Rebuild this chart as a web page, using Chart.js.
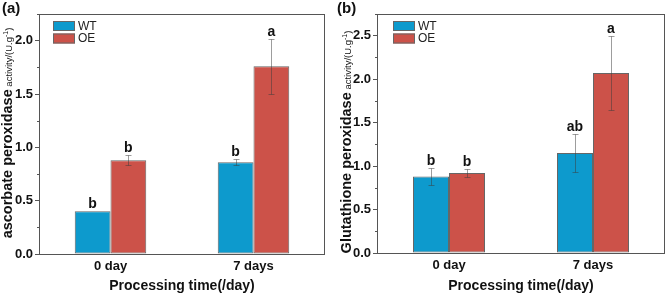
<!DOCTYPE html>
<html>
<head>
<meta charset="utf-8">
<script src="https://cdn.jsdelivr.net/npm/chart.js@4.4.1/dist/chart.umd.min.js"></script>
<style>
  body { margin: 0; background: #fff; }
  #panelA { position: absolute; left: 0; top: 0; }
  #panelB { position: absolute; left: 335px; top: 0; }
</style>
</head>
<body>
<canvas id="panelA" width="335" height="295"></canvas>
<canvas id="panelB" width="334" height="295"></canvas>
<script>
// Kategorier och serier
const categories = ['0 day', '7 days'];
const seriesNames = ['WT', 'OE'];

// (a) ascorbate peroxidase
const apxWT = [0.40, 0.86];
const apxWTErr = [0.00, 0.03];
const apxOE = [0.88, 1.76];
const apxOEErr = [0.05, 0.26];
const apxWTLetters = ['b', 'b'];
const apxOELetters = ['b', 'a'];
const apxTicks = [0.0, 0.5, 1.0, 1.5, 2.0];
const apxMinorTicks = [0.25, 0.75, 1.25, 1.75, 2.25];

// (b) glutathione peroxidase
const gpxWT = [0.88, 1.15];
const gpxWTErr = [0.10, 0.215];
const gpxOE = [0.92, 2.07];
const gpxOEErr = [0.045, 0.43];
const gpxWTLetters = ['b', 'ab'];
const gpxOELetters = ['b', 'a'];
const gpxTicks = [0.0, 0.5, 1.0, 1.5, 2.0, 2.5];
const gpxMinorTicks = [0.25, 0.75, 1.25, 1.75, 2.25, 2.75];

const FONT = '"Liberation Sans", Arial, sans-serif';
const wtColor = '#0d9acd';
const oeColor = '#cc5249';

/**
 * Ritar ram, mindre tick-streck, felstaplar, bokstäver, förklaring och titlar.
 */
const decorPlugin = {
    id: 'decor',
    afterDatasetsDraw(chart, args, opts) {
        const ctx = chart.ctx;
        const area = chart.chartArea;
        const y = chart.scales.y;
        ctx.save();

        // felstaplar och signifikansbokstäver
        chart.data.datasets.forEach((ds, i) => {
            const meta = chart.getDatasetMeta(i);
            meta.data.forEach((bar, j) => {
                const err = ds.errors[j];
                const x = Math.round(bar.x) + 0.5;
                const yTop = y.getPixelForValue(ds.data[j] + err);
                const yBot = y.getPixelForValue(ds.data[j] - err);
                if (err > 0) {
                    ctx.strokeStyle = 'rgba(60,60,60,0.5)';
                    ctx.lineWidth = 1;
                    ctx.beginPath();
                    ctx.moveTo(x, Math.round(yTop) + 0.5);
                    ctx.lineTo(x, Math.round(yBot) + 0.5);
                    ctx.moveTo(x - 3, Math.round(yTop) + 0.5);
                    ctx.lineTo(x + 3, Math.round(yTop) + 0.5);
                    ctx.moveTo(x - 3, Math.round(yBot) + 0.5);
                    ctx.lineTo(x + 3, Math.round(yBot) + 0.5);
                    ctx.stroke();
                }
                ctx.fillStyle = '#111';
                ctx.font = 'bold 14px ' + FONT;
                ctx.textAlign = 'center';
                ctx.textBaseline = 'alphabetic';
                ctx.fillText(ds.letters[j], bar.x, yTop - 3);
            });
        });

        // ram runt diagramytan
        ctx.strokeStyle = '#555';
        ctx.lineWidth = 1;
        ctx.strokeRect(area.left + 0.5, area.top + 0.5, area.right - area.left - 1, area.bottom - area.top);

        // mindre tick-streck
        ctx.beginPath();
        opts.minorTicks.forEach(v => {
            const py = Math.round(y.getPixelForValue(v)) + 0.5;
            ctx.moveTo(area.left - 2, py);
            ctx.lineTo(area.left, py);
        });
        ctx.stroke();

        // förklaring
        chart.data.datasets.forEach((ds, i) => {
            const bx = area.left + opts.legendX;
            const by = area.top + 7 + i * 12.5;
            ctx.fillStyle = ds.backgroundColor;
            ctx.fillRect(bx, by, 22, 10);
            ctx.strokeStyle = '#666';
            ctx.strokeRect(bx + 0.5, by + 0.5, 21, 9);
            ctx.fillStyle = '#222';
            ctx.font = '12px ' + FONT;
            ctx.textAlign = 'left';
            ctx.textBaseline = 'middle';
            ctx.fillText(ds.label, bx + 25, by + 5.5);
        });

        // x-titel
        ctx.fillStyle = '#111';
        ctx.font = 'bold 14px ' + FONT;
        ctx.textAlign = 'center';
        ctx.textBaseline = 'middle';
        ctx.fillText('Processing time(/day)', (area.left + area.right) / 2, 286);

        // panelbokstav
        ctx.font = 'bold 15px ' + FONT;
        ctx.textAlign = 'left';
        ctx.fillText(opts.panel, 2, 9);

        // y-titel med blandade storlekar
        const parts = [
            { text: opts.titleMain, font: 'bold 14.5px ' + FONT, dy: 0 },
            { text: ' activity/(U.g', font: '9.5px ' + FONT, dy: 0 },
            { text: '-1', font: '7px ' + FONT, dy: -4 },
            { text: ')', font: '9.5px ' + FONT, dy: 0 }
        ];
        let total = 0;
        parts.forEach(p => { ctx.font = p.font; p.w = ctx.measureText(p.text).width; total += p.w; });
        ctx.translate(opts.titleX, opts.titleY);
        ctx.rotate(-Math.PI / 2);
        ctx.textAlign = 'left';
        ctx.textBaseline = 'alphabetic';
        let cx = -total / 2;
        parts.forEach(p => {
            ctx.font = p.font;
            ctx.fillText(p.text, cx, p.dy);
            cx += p.w;
        });
        ctx.restore();
    }
};

/**
 * Skapar en panel med grupperade staplar.
 * @param {string} canvasId - Canvas-elementets id.
 * @param {Object} cfg - Data och layout för panelen.
 */
function createPanel(canvasId, cfg) {
    new Chart(document.getElementById(canvasId), {
        type: 'bar',
        data: {
            labels: categories,
            datasets: [{
                label: seriesNames[0],
                data: cfg.wt,
                errors: cfg.wtErr,
                letters: cfg.wtLetters,
                backgroundColor: wtColor,
                borderColor: '#666',
                borderWidth: 1,
                borderSkipped: false,
                categoryPercentage: 0.5,
                barPercentage: 1.0
            }, {
                label: seriesNames[1],
                data: cfg.oe,
                errors: cfg.oeErr,
                letters: cfg.oeLetters,
                backgroundColor: oeColor,
                borderColor: '#666',
                borderWidth: 1,
                borderSkipped: false,
                categoryPercentage: 0.5,
                barPercentage: 1.0
            }]
        },
        options: {
            responsive: false,
            animation: false,
            layout: { padding: { left: 0, right: cfg.padRight, top: 14, bottom: 0 } },
            plugins: {
                legend: { display: false },
                tooltip: { enabled: false },
                decor: {
                    panel: cfg.panel,
                    titleMain: cfg.titleMain,
                    titleX: cfg.titleX,
                    titleY: cfg.titleY,
                    legendX: cfg.legendX,
                    minorTicks: cfg.minorTicks
                }
            },
            scales: {
                x: {
                    grid: { display: false, drawTicks: false },
                    border: { display: false },
                    ticks: { padding: 5, color: '#111', font: { family: FONT, size: 13, weight: 'bold' } },
                    afterFit: s => { s.height = cfg.xHeight; }
                },
                y: {
                    min: 0,
                    max: cfg.max,
                    grid: { drawOnChartArea: false, tickLength: 4, color: '#555' },
                    border: { display: false },
                    ticks: {
                        padding: 2,
                        color: '#111',
                        font: { family: FONT, size: 13, weight: 'bold' },
                        callback: v => Number(v).toFixed(1)
                    },
                    afterBuildTicks: s => { s.ticks = cfg.ticks.map(v => ({ value: v })); },
                    afterFit: s => { s.width = cfg.yWidth; }
                }
            }
        },
        plugins: [decorPlugin]
    });
}

createPanel('panelA', {
    panel: '(a)', titleMain: 'ascorbate peroxidase',
    wt: apxWT, wtErr: apxWTErr, wtLetters: apxWTLetters,
    oe: apxOE, oeErr: apxOEErr, oeLetters: apxOELetters,
    ticks: apxTicks, minorTicks: apxMinorTicks, max: 2.25,
    yWidth: 39, xHeight: 41, padRight: 10,
    titleX: 12, titleY: 133, legendX: 14
});

createPanel('panelB', {
    panel: '(b)', titleMain: 'Glutathione peroxidase',
    wt: gpxWT, wtErr: gpxWTErr, wtLetters: gpxWTLetters,
    oe: gpxOE, oeErr: gpxOEErr, oeLetters: gpxOELetters,
    ticks: gpxTicks, minorTicks: gpxMinorTicks, max: 2.75,
    yWidth: 42, xHeight: 42, padRight: 4,
    titleX: 16, titleY: 142, legendX: 16
});
</script>
</body>
</html>
